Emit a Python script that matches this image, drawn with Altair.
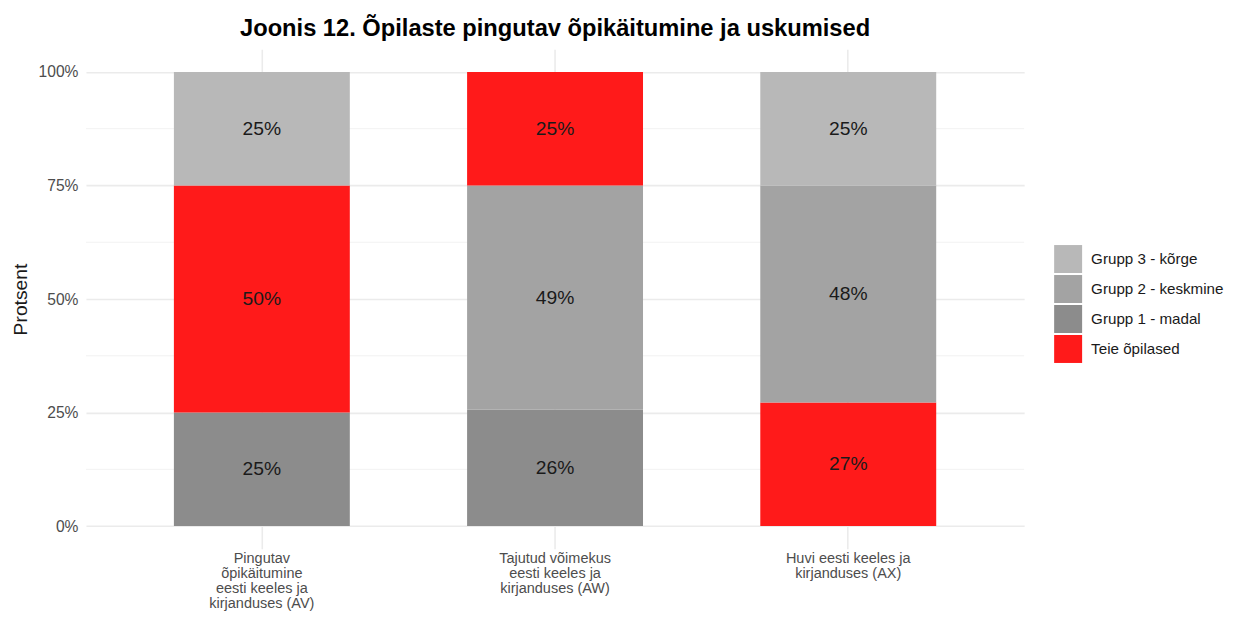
import altair as alt
import pandas as pd

categories = [
    "Pingutav|õpikäitumine|eesti keeles ja|kirjanduses (AV)",
    "Tajutud võimekus|eesti keeles ja|kirjanduses (AW)",
    "Huvi eesti keeles ja|kirjanduses (AX)",
]
# segments bottom-to-top for each bar
bar_groups = [
    ["Grupp 1 - madal", "Teie õpilased", "Grupp 3 - kõrge"],
    ["Grupp 1 - madal", "Grupp 2 - keskmine", "Teie õpilased"],
    ["Teie õpilased", "Grupp 2 - keskmine", "Grupp 3 - kõrge"],
]
bar_values = [
    [25.0, 50.0, 25.0],
    [25.6, 49.4, 25.0],
    [27.2, 47.8, 25.0],
]
legend_order = ["Grupp 3 - kõrge", "Grupp 2 - keskmine", "Grupp 1 - madal", "Teie õpilased"]
legend_colors = ["#B8B8B8", "#A3A3A3", "#8C8C8C", "#FF1A1A"]
major_ticks = [0, 25, 50, 75, 100]
minor_grid = [12.5, 37.5, 62.5, 87.5]

rows = []
for ci, cat in enumerate(categories):
    for lvl, (g, v) in enumerate(zip(bar_groups[ci], bar_values[ci])):
        rows.append({"cat": cat, "group": g, "value": v, "level": lvl})
df = pd.DataFrame(rows)

FONT = "Liberation Sans"
yscale = alt.Scale(domain=[-5, 105], nice=False, zero=False)
yaxis = alt.Axis(
    title="Protsent", values=major_ticks, labelExpr="datum.value + '%'",
    grid=True, gridColor="#EBEBEB", gridWidth=1.6, domain=False, ticks=False,
    labelFontSize=15.6, labelColor="#4D4D4D", labelFont=FONT, labelPadding=8,
    titleFontSize=19.3, titleFontWeight="normal", titleColor="#1A1A1A", titleFont=FONT,
    titlePadding=8,
)
xaxis = alt.Axis(
    title=None, labelExpr="split(datum.label, '|')", labelAngle=0,
    grid=True, gridColor="#EBEBEB", gridWidth=1.6, bandPosition=0.5,
    domain=False, ticks=False, labelFontSize=14.5, labelColor="#4D4D4D",
    labelFont=FONT, labelPadding=3, labelLineHeight=15,
)
xenc = alt.X("cat:N", sort=categories, scale=alt.Scale(paddingInner=0.4, paddingOuter=0.3), axis=xaxis)

minor = alt.Chart(pd.DataFrame({"m": minor_grid})).mark_rule(
    color="#F2F2F2", strokeWidth=1
).encode(y=alt.Y("m:Q", scale=yscale, axis=yaxis))

base = alt.Chart(df).transform_stack(
    stack="value", groupby=["cat"], sort=[alt.SortField("level", order="ascending")], as_=["y0", "y1"]
).transform_calculate(
    mid="(datum.y0 + datum.y1) / 2", lab="format(datum.value / 100, '.0%')"
)

bars = base.mark_bar().encode(
    x=xenc,
    y=alt.Y("y0:Q", scale=yscale, axis=yaxis),
    y2="y1:Q",
    color=alt.Color(
        "group:N",
        scale=alt.Scale(domain=legend_order, range=legend_colors),
        legend=alt.Legend(
            title=None, orient="none", legendX=969, legendY=196,
            symbolType="square", symbolSize=784, symbolStrokeWidth=0, symbolOpacity=1,
            labelFontSize=15.2, labelColor="#1A1A1A", labelFont=FONT, labelOffset=9,
            rowPadding=2, padding=0,
        ),
    ),
)

text = base.mark_text(fontSize=19.3, font=FONT, color="#1A1A1A").encode(
    x=alt.X("cat:N", sort=categories),
    y=alt.Y("mid:Q", scale=yscale, axis=yaxis),
    text="lab:N",
)

chart = alt.layer(minor, bars, text).properties(
    width=939, height=500,
    title=alt.TitleParams(
        "Joonis 12. Õpilaste pingutav õpikäitumine ja uskumised",
        fontSize=23.7, fontWeight="bold", font=FONT, color="#000000",
        anchor="middle", frame="group", offset=9,
    ),
    autosize=alt.AutoSizeParams(type="none"),
    padding={"left": 78, "top": 41, "right": 203, "bottom": 64},
).configure_view(stroke=None)

chart.save("out.html", embed_options={"renderer": "svg", "actions": False})
